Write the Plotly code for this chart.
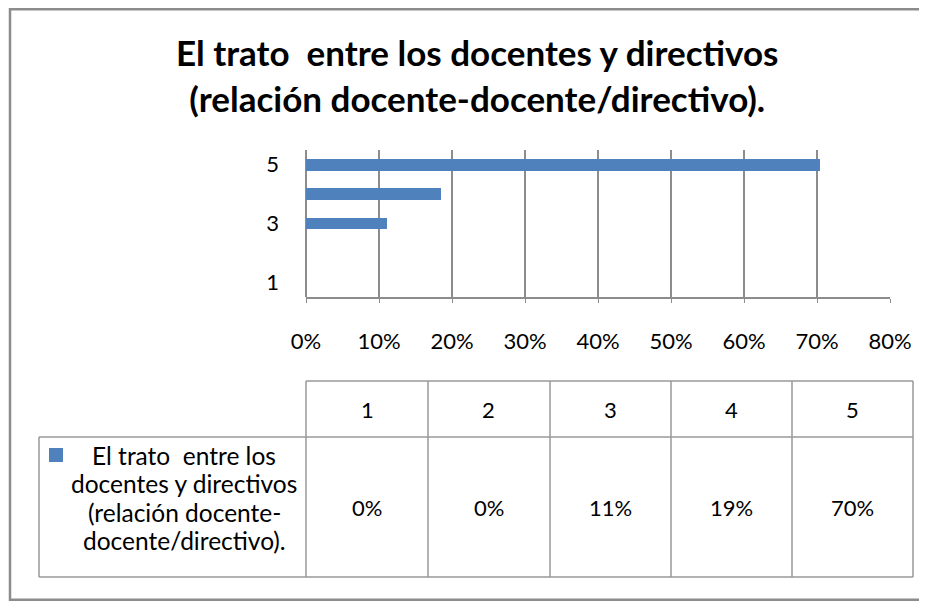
import plotly.graph_objects as go

# el body de la página tiene 8px de margen: la figura se reduce para que quepa
OFF = 8
W, H = 927 - 2 * OFF, 609 - 2 * OFF

categorias = [1, 2, 3, 4, 5]
porcentajes = [0.0, 0.0, 3 / 27, 5 / 27, 19 / 27]
serie = "El trato  entre los docentes y directivos (relación docente-docente/directivo)."
titulo = "El trato  entre los docentes y directivos<br>(relación docente-docente/directivo)."
serie_lineas = ["El trato  entre los", "docentes y directivos", "(relación docente-", "docente/directivo)."]
ticks_x = [0, 0.1, 0.2, 0.3, 0.4, 0.5, 0.6, 0.7, 0.8]
ticks_y = [1, 3, 5]

AZUL = "#4f81bd"
GRIS = "#8c8c8c"
FUENTE = "Lato, 'Open Sans', sans-serif"


def px(x):
    return (x - OFF) / W


def py(y):
    return 1 - (y - OFF) / H


fig = go.Figure()
fig.add_trace(
    go.Bar(
        x=porcentajes,
        y=categorias,
        orientation="h",
        marker=dict(color=AZUL, line=dict(width=0)),
        width=0.4,
        name=serie,
        showlegend=False,
    )
)

shapes = []


def linea(x0, y0, x1, y1, w=1.5, c="#999999"):
    shapes.append(dict(type="line", xref="paper", yref="paper",
                       x0=px(x0), y0=py(y0), x1=px(x1), y1=py(y1),
                       line=dict(color=c, width=w)))


# marco exterior
linea(9, 9.2, 927, 9.2, 2.5, GRIS)
linea(10, 8, 10, 601, 2.5, GRIS)
linea(9, 599.8, 927, 599.8, 2.5, GRIS)

# tabla de datos
col_x = [306, 428, 550, 671, 792, 913]
linea(306, 381, 913, 381)
linea(39, 437, 913, 437)
linea(39, 577, 913, 577)
linea(39, 437, 39, 577)
for x in col_x:
    linea(x, 381, x, 577)

# marcador de leyenda
shapes.append(dict(type="rect", xref="paper", yref="paper",
                   x0=px(49), y0=py(462), x1=px(63), y1=py(448),
                   fillcolor=AZUL, line=dict(width=0)))

annotations = [
    dict(text=f"<b>{titulo}</b>", x=px(477), y=py(75), xref="paper", yref="paper",
         showarrow=False, xanchor="center", yanchor="middle",
         font=dict(size=35, color="black", family=FUENTE)),
]

for i, cat in enumerate(categorias):
    cx = (col_x[i] + col_x[i + 1]) / 2
    annotations.append(dict(text=str(cat), x=px(cx), y=py(409), xref="paper", yref="paper",
                            showarrow=False, xanchor="center", yanchor="middle",
                            font=dict(size=22, color="black", family=FUENTE)))
    annotations.append(dict(text=f"{porcentajes[i]:.0%}", x=px(cx), y=py(507), xref="paper",
                            yref="paper", showarrow=False, xanchor="center", yanchor="middle",
                            font=dict(size=22, color="black", family=FUENTE)))

for j, txt in enumerate(serie_lineas):
    annotations.append(dict(text=txt, x=px(184), y=py(455 + 28.5 * j), xref="paper",
                            yref="paper", showarrow=False, xanchor="center", yanchor="middle",
                            font=dict(size=24.5, color="black", family=FUENTE)))

fig.update_layout(
    template="none",
    width=W,
    height=H,
    autosize=False,
    margin=dict(l=0, r=0, t=0, b=0, pad=0),
    paper_bgcolor="white",
    plot_bgcolor="white",
    bargap=0,
    font=dict(family=FUENTE, size=22, color="black"),
    xaxis=dict(
        domain=[px(306), px(890)],
        range=[0, 0.8],
        tickvals=ticks_x,
        tickformat=".0%",
        showgrid=True,
        gridcolor=GRIS,
        gridwidth=1.5,
        zeroline=True,
        zerolinecolor=GRIS,
        zerolinewidth=1.5,
        showline=True,
        linecolor=GRIS,
        linewidth=2,
        ticks="outside",
        ticklen=4,
        tickcolor=GRIS,
        ticklabelstandoff=20,
        tickfont=dict(size=22),
        automargin=False,
        fixedrange=True,
    ),
    yaxis=dict(
        domain=[py(297), py(150)],
        range=[0.5, 5.5],
        tickvals=ticks_y,
        showgrid=False,
        zeroline=False,
        showline=False,
        ticks="",
        ticklabelstandoff=26,
        tickfont=dict(size=22),
        automargin=False,
        fixedrange=True,
    ),
    shapes=shapes,
    annotations=annotations,
)

fig.write_html("out.html")
